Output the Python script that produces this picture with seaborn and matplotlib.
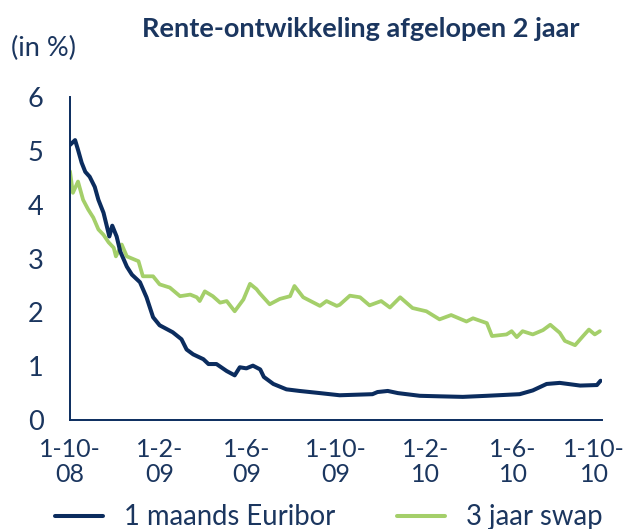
import matplotlib
matplotlib.use("Agg")
import matplotlib.pyplot as plt
from matplotlib import font_manager
from matplotlib.transforms import ScaledTranslation
import seaborn as sns
import pandas as pd

# 1 maands Euribor (%)
euribor_dates = [
    "2008-10-01", "2008-10-08", "2008-10-12", "2008-10-17", "2008-10-22", "2008-10-28",
    "2008-11-04", "2008-11-09", "2008-11-16", "2008-11-24", "2008-11-28", "2008-12-04",
    "2008-12-09", "2008-12-18", "2008-12-25", "2009-01-05", "2009-01-14", "2009-01-23",
    "2009-02-01", "2009-02-19", "2009-03-03", "2009-03-10", "2009-03-19", "2009-04-02",
    "2009-04-09", "2009-04-20", "2009-05-04", "2009-05-15", "2009-05-22", "2009-05-31",
    "2009-06-09", "2009-06-19", "2009-06-24", "2009-07-07", "2009-07-25", "2009-08-12",
    "2009-09-09", "2009-10-06", "2009-11-20", "2009-11-27", "2009-12-11", "2009-12-25",
    "2010-01-24", "2010-02-21", "2010-03-24", "2010-04-26", "2010-06-10", "2010-06-28",
    "2010-07-17", "2010-08-04", "2010-09-01", "2010-09-24", "2010-09-29",
]
euribor = [
    5.11, 5.20, 5.02, 4.78, 4.61, 4.52,
    4.33, 4.09, 3.85, 3.41, 3.61, 3.41,
    3.13, 2.85, 2.70, 2.56, 2.28, 1.91,
    1.76, 1.63, 1.50, 1.31, 1.22, 1.13,
    1.04, 1.04, 0.91, 0.83, 0.98, 0.96,
    1.01, 0.94, 0.80, 0.67, 0.57, 0.54,
    0.50, 0.46, 0.48, 0.52, 0.54, 0.50,
    0.45, 0.44, 0.43, 0.45, 0.48, 0.55,
    0.67, 0.69, 0.64, 0.65, 0.73,
]

# 3 jaar swap (%)
swap_dates = [
    "2008-10-01", "2008-10-05", "2008-10-12", "2008-10-19", "2008-10-26", "2008-11-02",
    "2008-11-09", "2008-11-16", "2008-11-23", "2008-11-30", "2008-12-03", "2008-12-11",
    "2008-12-18", "2009-01-03", "2009-01-09", "2009-01-23", "2009-02-01", "2009-02-15",
    "2009-03-01", "2009-03-15", "2009-03-24", "2009-03-28", "2009-04-04", "2009-04-15",
    "2009-04-25", "2009-05-04", "2009-05-15", "2009-05-27", "2009-06-05", "2009-06-14",
    "2009-06-18", "2009-07-02", "2009-07-16", "2009-07-30", "2009-08-05", "2009-08-17",
    "2009-09-09", "2009-09-18", "2009-10-02", "2009-10-06", "2009-10-20", "2009-11-03",
    "2009-11-16", "2009-12-02", "2009-12-14", "2009-12-28", "2010-01-14", "2010-02-02",
    "2010-02-20", "2010-03-08", "2010-03-29", "2010-04-07", "2010-04-26", "2010-05-03",
    "2010-05-23", "2010-05-30", "2010-06-06", "2010-06-14", "2010-06-28", "2010-07-12",
    "2010-07-22", "2010-08-04", "2010-08-11", "2010-08-25", "2010-09-05", "2010-09-13",
    "2010-09-21", "2010-09-28",
]
swap = [
    4.62, 4.22, 4.43, 4.09, 3.91, 3.76,
    3.54, 3.44, 3.30, 3.20, 3.04, 3.26,
    3.04, 2.95, 2.67, 2.67, 2.52, 2.46,
    2.30, 2.33, 2.28, 2.21, 2.39, 2.30,
    2.18, 2.21, 2.02, 2.24, 2.53, 2.43,
    2.36, 2.15, 2.25, 2.30, 2.49, 2.28,
    2.12, 2.21, 2.12, 2.14, 2.31, 2.28,
    2.13, 2.21, 2.09, 2.28, 2.08, 2.02,
    1.87, 1.95, 1.83, 1.89, 1.80, 1.56,
    1.59, 1.65, 1.54, 1.65, 1.59, 1.67,
    1.77, 1.62, 1.47, 1.39, 1.56, 1.68,
    1.59, 1.65,
]

tick_dates = ["2008-10-01", "2009-02-01", "2009-06-01", "2009-10-01",
              "2010-02-01", "2010-06-01", "2010-10-01"]
tick_labels = ["1-10-\n08", "1-2-\n09", "1-6-\n09", "1-10-\n09",
               "1-2-\n10", "1-6-\n10", "1-10-\n10"]

navy = "#0b2c5e"
green = "#a4cf6a"
text_col = "#1b365f"

sns.set_style("white")
installed = {f.name for f in font_manager.fontManager.ttflist}
main_font = "Lato" if "Lato" in installed else "DejaVu Sans"
plt.rcParams["font.family"] = [main_font, "DejaVu Sans"]

df_eur = pd.DataFrame({"datum": pd.to_datetime(euribor_dates), "rente": euribor})
df_swap = pd.DataFrame({"datum": pd.to_datetime(swap_dates), "rente": swap})

fig = plt.figure(figsize=(6.26, 5.29), dpi=100)
ax = fig.add_axes([0.1118, 0.206, 0.8499, 0.6106])

sns.lineplot(data=df_swap, x="datum", y="rente", ax=ax, color=green, lw=2.7,
             label="3 jaar swap")
sns.lineplot(data=df_eur, x="datum", y="rente", ax=ax, color=navy, lw=2.9,
             label="1 maands Euribor")

ax.set_xlim(pd.Timestamp("2008-10-01"), pd.Timestamp("2010-10-01"))
ax.set_ylim(0, 6)
ax.set_xlabel("")
ax.set_ylabel("")

ax.set_yticks(range(0, 7))
ax.set_yticklabels([str(i) for i in range(0, 7)], fontsize=19.5, color=text_col)
ax.set_xticks(pd.to_datetime(tick_dates))
ax.set_xticklabels(tick_labels, fontsize=18, color=text_col, linespacing=1.1)

for side in ["top", "right"]:
    ax.spines[side].set_visible(False)
for side in ["left", "bottom"]:
    ax.spines[side].set_color(navy)
    ax.spines[side].set_linewidth(1.4)
ax.tick_params(axis="y", direction="out", length=6, width=1.4, color=navy, pad=13)
ax.tick_params(axis="x", direction="out", length=6, width=1.4, color=navy, pad=7)

# keep the last date label inside the picture
last = ax.get_xticklabels()[-1]
last.set_transform(last.get_transform() + ScaledTranslation(-0.08, 0, fig.dpi_scale_trans))

fig.text(361 / 626, 1 - 17 / 529, "Rente-ontwikkeling afgelopen 2 jaar",
         ha="center", va="top", fontsize=19.5, fontweight="bold", color=text_col)
fig.text(11 / 626, 1 - 36 / 529, "(in %)", ha="left", va="top",
         fontsize=19.5, color=text_col)

handles, labels = ax.get_legend_handles_labels()
order = [labels.index("1 maands Euribor"), labels.index("3 jaar swap")]
leg = ax.legend([handles[i] for i in order], [labels[i] for i in order],
                ncol=2, frameon=False, loc="center left",
                bbox_to_anchor=(0.088, 0.022), bbox_transform=fig.transFigure,
                fontsize=19.8, handlelength=1.75, handletextpad=0.75,
                columnspacing=2.25, borderaxespad=0, borderpad=0)
for t in leg.get_texts():
    t.set_color(text_col)
for line in leg.get_lines():
    line.set_linewidth(2.9)

fig.savefig("out.png", dpi=100)
